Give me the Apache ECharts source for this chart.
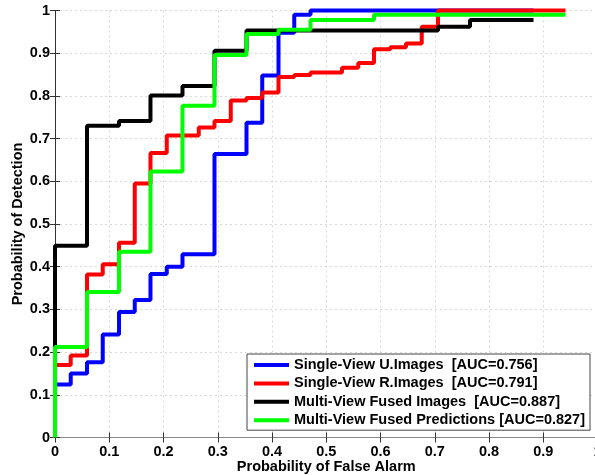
<!DOCTYPE html>
<html>
<head>
<meta charset="utf-8">
<script src="https://cdn.jsdelivr.net/npm/echarts@6/dist/echarts.min.js"></script>
<style>html,body{margin:0;padding:0;background:#fff;}#c{width:595px;height:475px;}</style>
</head>
<body>
<div id="c"></div>
<script>
const seriesNames = [
  'Single-View U.Images  [AUC=0.756]',
  'Single-View R.Images  [AUC=0.791]',
  'Multi-View Fused Images  [AUC=0.887]',
  'Multi-View Fused Predictions [AUC=0.827]'
];
const blueX = [0, 0, 0.029, 0.059, 0.088, 0.118, 0.147, 0.176, 0.206, 0.235, 0.294, 0.353, 0.382, 0.412, 0.441, 0.471, 0.882];
const blueY = [0, 0.124, 0.150, 0.176, 0.241, 0.294, 0.322, 0.383, 0.400, 0.429, 0.664, 0.737, 0.848, 0.948, 0.990, 1.0, 1.0];
const redX = [0, 0, 0.029, 0.059, 0.088, 0.118, 0.147, 0.176, 0.206, 0.265, 0.294, 0.324, 0.353, 0.382, 0.412, 0.441, 0.471, 0.529, 0.559, 0.588, 0.618, 0.647, 0.676, 0.706, 0.941];
const redY = [0, 0.170, 0.192, 0.382, 0.406, 0.456, 0.595, 0.666, 0.707, 0.726, 0.741, 0.789, 0.795, 0.808, 0.844, 0.849, 0.855, 0.866, 0.877, 0.909, 0.914, 0.923, 0.962, 1.0, 1.0];
const blackX = [0, 0, 0.059, 0.118, 0.176, 0.235, 0.294, 0.353, 0.706, 0.765, 0.882];
const blackY = [0, 0.449, 0.730, 0.741, 0.801, 0.823, 0.906, 0.953, 0.962, 0.978, 0.978];
const greenX = [0, 0, 0.059, 0.118, 0.176, 0.235, 0.294, 0.353, 0.412, 0.471, 0.588, 0.941];
const greenY = [0, 0.212, 0.341, 0.435, 0.623, 0.777, 0.896, 0.945, 0.955, 0.978, 0.990, 0.990];
const colors = ['#0000ff', '#ff0000', '#000000', '#00ff00'];

const pairs = (xs, ys) => xs.map((x, i) => [x, ys[i]]);
const allData = [pairs(blueX, blueY), pairs(redX, redY), pairs(blackX, blackY), pairs(greenX, greenY)];

const font = 'Arial, "Liberation Sans", Helvetica, sans-serif';
const labelStyle = { color: '#000', fontWeight: 'bold', fontSize: 14.5, fontFamily: font };
const gridLine = { show: true, lineStyle: { color: '#d9d9d9', type: [2, 3], width: 1 } };
const axLine = { show: true, lineStyle: { color: '#333', width: 1 } };
const tick = { show: true, inside: true, length: 5, lineStyle: { color: '#333' } };

const chart = echarts.init(document.getElementById('c'), null, { renderer: 'canvas' });
chart.setOption({
  animation: false,
  backgroundColor: '#fff',
  grid: { left: 55, right: -2.5, top: 10.5, bottom: 37.5, containLabel: false, outerBoundsMode: 'none' },
  xAxis: [{
    type: 'value', min: 0, max: 1, interval: 0.1, position: 'bottom',
    name: 'Probability of False Alarm', nameLocation: 'middle', nameGap: 22, nameMoveOverlap: false,
    nameTextStyle: labelStyle,
    axisLine: axLine, axisTick: tick, splitLine: gridLine,
    axisLabel: Object.assign({ margin: 7 }, labelStyle)
  }, {
    type: 'value', min: 0, max: 1, interval: 0.1, position: 'top',
    axisLine: { show: true, lineStyle: { color: '#888', width: 1 } }, axisTick: tick, splitLine: { show: false }, axisLabel: { show: false }
  }],
  yAxis: [{
    type: 'value', min: 0, max: 1, interval: 0.1, position: 'left',
    name: 'Probability of Detection', nameLocation: 'middle', nameGap: 30, nameMoveOverlap: false,
    nameTextStyle: labelStyle,
    axisLine: axLine, axisTick: tick, splitLine: gridLine,
    axisLabel: Object.assign({ margin: 5 }, labelStyle)
  }, {
    type: 'value', min: 0, max: 1, interval: 0.1, position: 'right',
    axisLine: axLine, axisTick: tick, splitLine: { show: false }, axisLabel: { show: false }
  }],
  legend: {
    orient: 'vertical', left: 247, top: 354,
    backgroundColor: '#fff', borderColor: '#444', borderWidth: 1,
    padding: [3, 5, 2, 7], itemGap: 2.4,
    itemWidth: 35, itemHeight: 4, icon: 'rect',
    textStyle: { color: '#000', fontWeight: 'bold', fontSize: 14.5, fontFamily: font, lineHeight: 16 },
    data: seriesNames
  },
  series: allData.map((d, i) => ({
    name: seriesNames[i], type: 'line', step: 'end', data: d,
    xAxisIndex: 0, yAxisIndex: 0,
    showSymbol: false, symbol: 'none', clip: false,
    color: colors[i],
    lineStyle: { color: colors[i], width: 4 },
    z: 2 + i
  }))
});
</script>
</body>
</html>
